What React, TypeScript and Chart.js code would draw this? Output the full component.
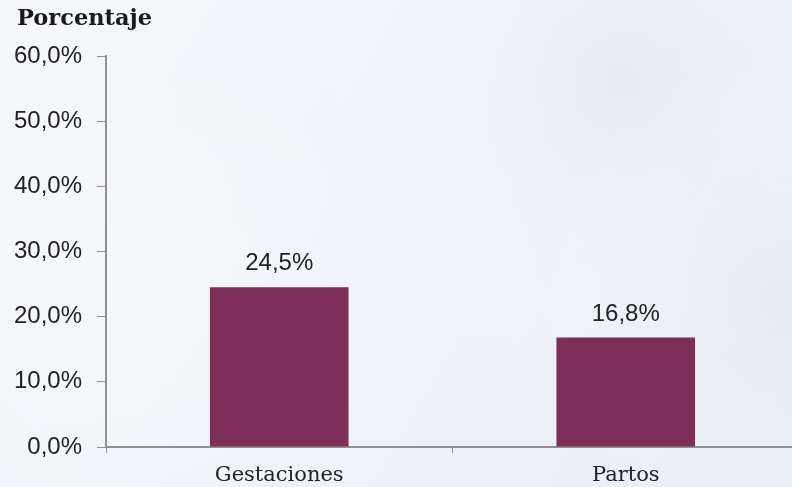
import React, { useEffect, useRef } from "react";
import { Chart, registerables } from "chart.js";

Chart.register(...registerables);

const categories = ["Gestaciones", "Partos"];
const values = [24.5, 16.8];
const yTitle = "Porcentaje";
const yMin = 0;
const yMax = 60;
const yStep = 10;

const fmt = (v: number) => v.toFixed(1).replace(".", ",") + "%";

const bgPlugin = {
  id: "bg",
  beforeDraw(chart: any) {
    const { ctx, width, height } = chart;
    ctx.save();
    const g = ctx.createLinearGradient(0, 0, width, height);
    g.addColorStop(0, "#f6f8fb");
    g.addColorStop(0.5, "#eff3f8");
    g.addColorStop(1, "#e8eef5");
    ctx.fillStyle = g;
    ctx.fillRect(0, 0, width, height);
    const spots = [
      [620, 80, 320, "rgba(214,226,238,0.35)"],
      [780, 300, 260, "rgba(216,228,240,0.3)"],
      [150, 300, 260, "rgba(255,255,255,0.3)"],
    ];
    for (const [x, y, r, c] of spots as any) {
      const rg = ctx.createRadialGradient(x, y, 0, x, y, r);
      rg.addColorStop(0, c);
      rg.addColorStop(1, "rgba(255,255,255,0)");
      ctx.fillStyle = rg;
      ctx.fillRect(0, 0, width, height);
    }
    ctx.restore();
  },
};

const labelPlugin = {
  id: "labels",
  afterDatasetsDraw(chart: any) {
    const { ctx } = chart;
    const meta = chart.getDatasetMeta(0);
    ctx.save();
    ctx.font = '24px "Liberation Sans", Arial, sans-serif';
    ctx.fillStyle = "#222222";
    ctx.textAlign = "center";
    ctx.textBaseline = "alphabetic";
    meta.data.forEach((bar: any, i: number) => {
      ctx.fillText(fmt(values[i]), bar.x, bar.y - 17);
    });
    ctx.font = 'bold 22.5px "DejaVu Serif", serif';
    ctx.textAlign = "left";
    ctx.fillStyle = "#1a1a1a";
    ctx.fillText(yTitle, 17, 25);
    ctx.restore();
  },
};

export default function App() {
  const ref = useRef<HTMLCanvasElement | null>(null);
  useEffect(() => {
    if (!ref.current) return;
    const chart = new Chart(ref.current, {
      type: "bar",
      data: {
        labels: categories,
        datasets: [
          {
            data: values,
            backgroundColor: "#7d2f5a",
            borderWidth: 0,
            categoryPercentage: 1,
            barPercentage: 0.4,
          },
        ],
      },
      options: {
        animation: false,
        responsive: false,
        maintainAspectRatio: false,
        layout: { padding: { top: 56, right: 1, left: 0, bottom: 0 } },
        plugins: {
          legend: { display: false },
          tooltip: { enabled: false },
          title: { display: false },
        },
        scales: {
          x: {
            offset: true,
            grid: {
              display: true,
              drawOnChartArea: false,
              drawTicks: true,
              tickLength: 6,
              color: "#909090",
              lineWidth: 1,
              offset: true,
            },
            border: { display: true, color: "#909090", width: 2 },
            ticks: {
              color: "#222222",
              padding: 10,
              font: { family: '"DejaVu Serif", serif', size: 21 },
            },
            afterFit(scale: any) {
              scale.height = 40;
            },
          },
          y: {
            min: yMin,
            max: yMax,
            grid: {
              display: true,
              drawOnChartArea: false,
              drawTicks: true,
              tickLength: 9,
              color: "#909090",
              lineWidth: 1,
            },
            border: { display: true, color: "#909090", width: 2 },
            ticks: {
              stepSize: yStep,
              color: "#222222",
              padding: 15,
              font: { family: '"Liberation Sans", Arial, sans-serif', size: 24 },
              callback: (v: any) => fmt(Number(v)),
            },
            afterFit(scale: any) {
              scale.width = 106;
            },
          },
        },
      },
      plugins: [bgPlugin, labelPlugin],
    });
    return () => chart.destroy();
  }, []);
  return (
    <div
      style={{
        position: "fixed",
        left: 0,
        top: 0,
        width: "100%",
        height: "100%",
        overflow: "hidden",
        background: "#eef3f8",
      }}
    >
      <canvas ref={ref} width={800} height={487} style={{ display: "block" }} />
    </div>
  );
}
